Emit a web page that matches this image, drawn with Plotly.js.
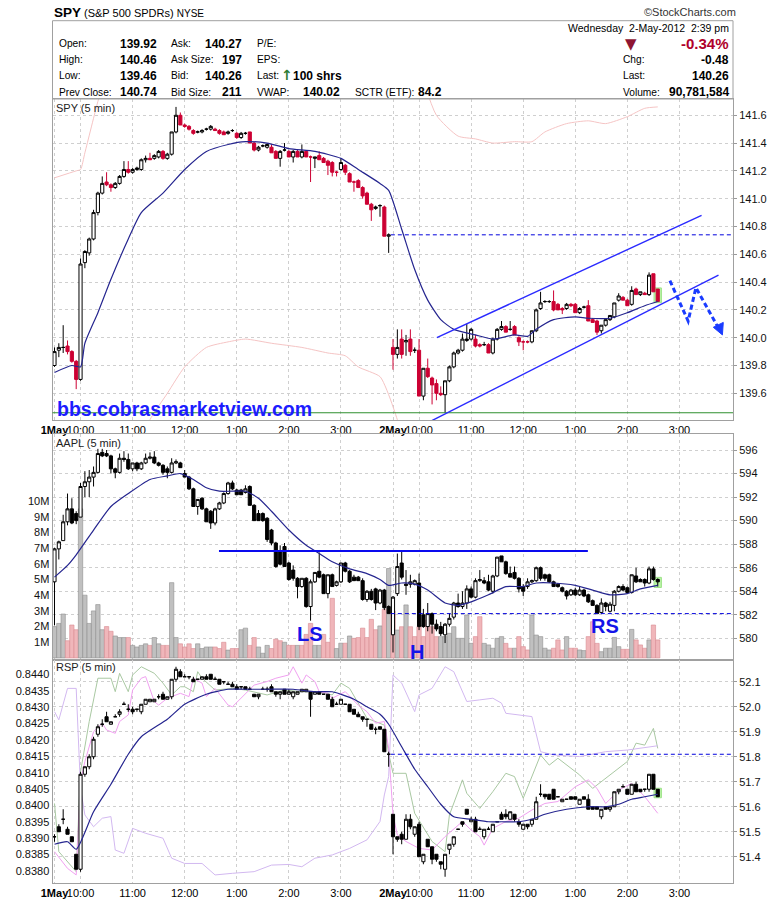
<!DOCTYPE html>
<html>
<head>
<meta charset="utf-8">
<script src="https://cdn.plot.ly/plotly-3.0.1.min.js"></script>
<style>html,body{margin:0;padding:0;background:#fff;}#chart{width:780px;height:901px;}</style>
</head>
<body>
<div id="chart"></div>
<script>
// ---------- time axis (5-minute bars: 1 May 9:30-16:00, 2 May 9:30-14:35) ----------
const TICK_POS  = [0, 6, 18, 30, 42, 54, 66, 78, 84, 96, 108, 120, 132, 144];
const TICK_TEXT = ['<b>1May</b>','10:00','11:00','12:00','1:00','2:00','3:00','<b>2May</b>','10:00','11:00','12:00','1:00','2:00','3:00'];
const DAY1_BARS = 78;

// ---------- SPY 5 min ----------
const SPY_OPEN = [
139.80,139.91,139.93,139.94,139.90,139.83,139.70,140.54,140.61,140.71,
140.90,141.04,141.12,141.10,141.08,141.11,141.16,141.21,141.19,141.21,
141.21,141.28,141.29,141.29,141.30,141.34,141.29,141.32,141.48,141.60,
141.53,141.52,141.49,141.48,141.48,141.50,141.50,141.50,141.49,141.48,
141.47,141.49,141.47,141.44,141.47,141.48,141.40,141.35,141.38,141.37,
141.37,141.34,141.29,141.35,141.34,141.30,141.34,141.30,141.34,141.30,
141.29,141.31,141.29,141.27,141.26,141.19,141.21,141.24,141.18,141.12,
141.13,141.08,141.04,140.96,140.93,140.95,140.94,140.73,
139.93,139.88,139.99,139.97,139.99,139.91,139.91,139.58,139.78,139.71,
139.67,139.60,139.59,139.69,139.79,139.89,139.91,139.98,139.99,139.99,
139.95,139.95,139.95,139.89,139.99,140.06,140.08,140.06,140.08,140.00,
139.97,139.97,139.97,140.05,140.21,140.26,140.26,140.26,140.24,140.21,
140.21,140.24,140.24,140.18,140.22,140.23,140.13,140.12,140.05,140.09,
140.13,140.15,140.27,140.29,140.27,140.24,140.35,140.31,140.32,140.31,
140.46,140.35];
const SPY_HIGH = [
139.93,139.96,140.09,139.98,139.91,139.84,140.57,140.63,140.72,140.92,
141.05,141.16,141.19,141.11,141.12,141.17,141.27,141.27,141.22,141.23,
141.29,141.31,141.33,141.32,141.35,141.35,141.33,141.48,141.66,141.62,
141.54,141.53,141.50,141.49,141.50,141.51,141.53,141.51,141.50,141.49,
141.49,141.50,141.48,141.48,141.48,141.48,141.41,141.38,141.39,141.40,
141.39,141.35,141.35,141.40,141.35,141.35,141.35,141.39,141.35,141.31,
141.30,141.34,141.30,141.28,141.27,141.20,141.29,141.25,141.19,141.13,
141.14,141.09,141.05,140.97,140.95,140.96,140.95,140.75,
139.99,140.06,140.06,140.02,140.06,139.93,139.99,139.78,139.85,139.72,
139.70,139.65,139.69,139.80,139.90,139.92,140.03,140.10,140.07,140.02,
139.96,139.97,139.96,140.00,140.07,140.12,140.09,140.12,140.09,140.01,
139.98,139.98,140.05,140.21,140.33,140.27,140.27,140.34,140.25,140.22,
140.25,140.25,140.25,140.22,140.23,140.27,140.14,140.13,140.09,140.13,
140.16,140.25,140.32,140.30,140.28,140.37,140.36,140.33,140.33,140.47,
140.46,140.35];
const SPY_LOW = [
139.79,139.86,139.89,139.88,139.82,139.63,139.69,140.50,140.59,140.70,
140.88,141.03,141.09,141.05,141.07,141.10,141.15,141.18,141.18,141.20,
141.20,141.26,141.28,141.28,141.29,141.28,141.28,141.31,141.47,141.53,
141.51,141.49,141.46,141.47,141.47,141.49,141.49,141.49,141.46,141.46,
141.46,141.48,141.43,141.43,141.46,141.40,141.34,141.34,141.37,141.36,
141.33,141.29,141.23,141.34,141.30,141.26,141.30,141.29,141.30,141.12,
141.22,141.28,141.26,141.17,141.16,141.16,141.20,141.17,141.12,141.05,
141.08,141.00,140.96,140.84,140.92,140.87,140.73,140.61,
139.77,139.85,139.85,139.87,139.87,139.89,139.58,139.55,139.71,139.52,
139.55,139.58,139.46,139.68,139.78,139.88,139.90,139.97,139.98,139.93,
139.93,139.94,139.89,139.88,139.98,140.05,140.04,140.05,140.02,139.94,
139.91,139.96,139.96,140.04,140.20,140.25,140.25,140.19,140.20,140.17,
140.20,140.22,140.18,140.17,140.21,140.12,140.11,140.02,140.03,140.08,
140.12,140.14,140.26,140.27,140.23,140.23,140.31,140.30,140.31,140.30,
140.33,140.26];
const SPY_CLOSE = [
139.90,139.93,139.93,139.90,139.83,139.70,140.53,140.62,140.71,140.90,
141.04,141.11,141.10,141.08,141.11,141.16,141.21,141.19,141.21,141.22,
141.28,141.29,141.28,141.31,141.34,141.29,141.32,141.48,141.60,141.53,
141.52,141.50,141.47,141.48,141.49,141.50,141.52,141.49,141.47,141.46,
141.48,141.49,141.44,141.47,141.47,141.40,141.35,141.37,141.38,141.39,
141.33,141.29,141.34,141.35,141.30,141.34,141.30,141.34,141.30,141.30,
141.30,141.28,141.26,141.24,141.19,141.19,141.26,141.19,141.12,141.12,
141.08,141.02,140.96,140.92,140.94,140.95,140.73,140.74,
139.88,139.93,139.88,139.98,139.90,139.91,139.58,139.78,139.72,139.66,
139.60,139.59,139.69,139.79,139.89,139.91,139.99,139.99,140.06,139.94,
139.94,139.95,139.89,139.99,140.06,140.08,140.04,140.06,140.02,139.97,
139.97,139.97,140.05,140.20,140.25,140.26,140.26,140.20,140.20,140.20,
140.24,140.23,140.18,140.21,140.22,140.12,140.11,140.04,140.09,140.13,
140.16,140.25,140.30,140.27,140.23,140.34,140.31,140.33,140.31,140.45,
140.33,140.26];
const SPY_MA_X = [0,4,6,7,10,13,17,20,25,30,35,40,44,49,54,60,66,70,75,77,80,83,86,89,92,97,101,106,109,111,115,120,123,128,132,136,139];
const SPY_MA   = [139.75,139.80,139.79,139.96,140.18,140.42,140.71,140.90,141.04,141.21,141.34,141.39,141.41,141.40,141.36,141.34,141.29,141.21,141.11,141.06,140.78,140.49,140.27,140.13,140.06,140.02,139.99,140.02,140.01,140.06,140.13,140.15,140.14,140.14,140.18,140.23,140.26];
const SPY_BBU_X = [0,5,6,7,10,11,null,85,88,93,97,101,106,110,113,118,123,127,132,136,139];
const SPY_BBU   = [141.15,141.20,141.21,141.33,141.70,141.80,null,141.85,141.60,141.45,141.43,141.40,141.41,141.41,141.48,141.54,141.56,141.54,141.59,141.65,141.66];
const SPY_BBL_X = [21,22,26,30,35,40,44,50,57,63,67,70,75,77,79,80];
const SPY_BBL   = [139.30,139.41,139.60,139.79,139.93,139.97,139.99,139.96,139.93,139.89,139.87,139.79,139.72,139.59,139.41,139.30];

// ---------- AAPL 5 min ----------
const AAPL_OPEN = [
584.8,587.6,588.3,589.9,591.0,590.6,590.3,592.9,593.3,593.7,
594.1,595.8,595.7,595.5,594.4,594.1,595.3,595.2,594.4,594.9,
594.4,594.9,595.3,595.4,594.9,594.7,594.4,594.1,594.9,594.9,
594.0,593.7,592.7,591.2,591.9,591.0,590.8,589.8,591.0,591.5,
592.3,593.2,592.6,592.6,592.4,592.9,591.3,590.6,590.6,590.2,
589.2,588.1,587.4,587.8,586.4,585.8,585.1,584.4,585.1,582.7,
584.8,585.7,585.4,583.8,585.4,584.5,584.8,586.4,585.7,585.2,
585.2,584.9,583.3,584.0,584.2,583.0,584.1,582.7,
580.3,583.8,586.4,584.6,584.6,584.6,584.7,582.0,581.0,582.1,
581.2,581.0,580.3,581.2,581.8,583.0,582.7,583.0,584.2,583.5,
584.9,584.9,584.8,584.0,585.3,587.0,586.5,585.5,585.6,585.1,
584.4,584.4,584.8,584.9,586.0,585.4,585.4,584.8,584.6,584.3,
584.0,583.7,584.1,583.7,584.1,583.7,583.2,582.8,582.2,583.0,
582.3,582.8,584.0,584.4,584.3,583.9,585.3,585.0,585.0,584.7,
585.9,585.0];
const AAPL_HIGH = [
587.7,588.3,590.5,592.3,591.9,590.8,593.2,594.2,594.3,594.6,
596.1,596.1,596.0,595.6,594.5,595.7,595.9,595.7,594.9,595.0,
595.0,595.7,595.8,595.9,595.0,594.8,594.6,595.3,595.2,595.0,
594.3,593.8,592.8,591.8,592.0,591.1,590.9,591.1,591.6,592.4,
593.3,593.4,592.7,592.7,593.0,593.0,591.4,590.9,590.7,590.3,
589.3,588.2,587.9,588.1,586.5,586.2,585.2,585.1,585.2,585.0,
585.6,587.3,585.5,585.4,585.5,584.9,586.4,586.5,585.8,585.4,
585.3,585.1,584.1,584.2,584.3,584.2,584.2,582.8,
583.6,587.2,587.4,585.8,585.4,585.0,585.5,582.5,583.0,582.2,
581.6,581.4,581.3,582.1,583.1,583.8,584.0,584.5,584.4,585.1,
585.8,585.2,585.4,585.4,586.9,587.0,586.6,586.1,586.1,585.2,
584.6,585.1,585.0,586.1,586.1,585.5,585.5,584.9,584.7,584.4,
584.1,584.2,584.3,584.4,584.2,583.8,583.3,582.9,583.4,583.1,
583.1,584.1,584.5,584.6,584.4,585.4,586.0,585.1,585.1,586.1,
586.1,585.1];
const AAPL_LOW = [
581.1,586.7,588.3,589.6,589.7,589.7,590.3,592.0,592.0,592.9,
594.0,595.4,595.4,594.0,593.6,594.0,595.0,594.3,594.2,594.2,
594.3,594.8,595.2,594.8,594.6,593.9,593.6,594.0,594.8,594.5,
593.7,592.6,591.2,590.5,590.9,589.9,589.3,589.6,590.9,591.4,
592.2,592.6,592.2,592.2,592.3,591.3,590.0,590.0,589.9,588.2,
587.9,586.0,586.2,586.1,584.9,584.9,583.4,584.3,582.6,581.5,
584.7,585.1,583.8,583.4,584.4,584.4,584.7,585.6,584.7,584.9,
584.9,583.2,583.1,583.2,582.4,582.9,582.4,582.1,
578.8,583.6,585.0,583.7,584.3,584.5,580.7,580.9,580.6,580.4,
580.6,580.2,579.6,581.0,581.6,582.6,582.5,582.5,583.4,583.4,
584.8,584.6,584.0,583.8,585.2,586.5,585.4,585.2,585.0,583.9,
583.6,584.2,584.7,584.8,584.9,584.9,584.7,584.4,584.3,583.9,
583.3,583.6,583.6,583.6,583.5,583.0,582.8,582.1,582.1,582.3,
582.2,582.3,583.9,584.0,583.8,583.8,584.7,584.8,584.4,584.6,
584.9,584.4];
const AAPL_CLOSE = [
587.6,588.2,589.9,591.0,589.8,590.0,592.9,593.3,593.7,594.1,
595.7,595.5,595.5,594.4,594.1,595.3,595.2,594.4,594.9,594.4,
594.9,595.3,595.4,594.9,594.7,594.1,594.1,594.9,595.0,594.5,
593.7,592.7,591.2,591.8,591.0,589.9,589.8,591.0,591.5,592.3,
593.2,592.7,592.2,592.2,592.7,591.3,590.0,590.0,590.0,588.4,
588.1,586.1,586.3,586.1,585.0,585.1,584.4,585.1,582.7,584.8,
585.6,585.2,583.8,585.4,584.4,584.8,586.4,585.7,584.8,584.9,
584.9,583.3,584.0,583.3,583.0,584.1,582.6,582.1,
583.5,586.1,585.2,584.5,584.8,584.9,581.0,581.0,582.1,581.2,
580.8,580.4,581.2,581.7,583.0,582.7,583.0,584.2,583.5,584.9,
585.0,584.7,584.1,585.3,586.9,586.5,585.5,585.2,585.1,584.2,
584.0,584.8,584.9,586.0,585.1,585.1,584.8,584.4,584.4,584.0,
583.6,584.1,583.7,584.1,583.6,583.1,582.8,582.1,583.0,582.7,
582.9,584.0,584.4,584.1,583.9,585.4,584.8,584.8,584.7,585.9,
585.0,584.8];
// volume in millions
const AAPL_VOL = [
2.0,2.2,2.8,1.1,2.1,1.8,9.5,4.0,2.2,3.0,
3.4,1.8,2.0,1.7,1.4,1.3,1.3,1.3,0.8,0.7,
0.8,0.9,0.8,1.3,0.9,0.8,0.8,4.8,1.3,0.9,
0.7,0.9,0.6,0.9,0.6,0.7,0.7,0.7,0.6,1.0,
0.5,0.6,0.6,1.8,1.9,0.8,1.3,0.7,0.3,0.8,
0.6,1.2,1.1,1.0,0.8,0.8,0.8,0.8,1.5,2.2,
0.8,0.8,1.5,1.0,3.8,0.6,0.94,0.94,1.4,1.25,
1.3,1.9,1.3,2.46,1.8,2.04,3.1,5.7,
3.0,1.78,1.99,3.38,1.99,1.36,1.99,1.36,2.42,1.99,
1.36,1.36,1.36,1.57,1.99,1.25,1.25,2.74,0.93,1.36,
2.63,0.93,0.83,0.62,1.25,1.36,0.93,0.62,0.62,1.36,
0.72,0.51,2.74,1.46,1.36,0.62,0.51,0.62,1.15,0.51,
1.36,0.62,0.62,0.51,0.47,1.36,2.31,0.93,0.40,0.62,
0.62,1.31,0.72,0.55,0.55,1.82,1.15,0.83,0.62,1.15,
2.10,1.15];
// volume bar direction: u = up (grey), d = down (red)
const AAPL_VOL_DIR = [
'uuuddduuuu','uudduuuduu','uuduudduud','ddduuuuddd','udduudduuu',
'dddudduddd','uuddduudud','dddddudu',
'dududddddd','duuuuuuuud','duuuuuddud','dduuuuuddd','udduuddduu',
'uuuddudddu','dd'].join('');
const AAPL_MA_X = [0,3,5,9,13,17,22,26,29,32,35,38,41,44,47,50,54,58,61,64,68,72,75,77,80,83,86,90,93,96,100,104,108,111,115,120,124,128,132,135,139];
const AAPL_MA   = [585.2,586.2,587.1,589.2,591.2,592.3,593.5,593.8,594.0,593.5,592.8,592.5,592.5,592.5,591.9,590.8,589.2,587.9,587.2,586.5,585.9,585.5,585.0,584.5,584.7,584.6,584.1,583.0,582.8,583.1,583.7,584.4,584.4,584.7,584.7,584.5,584.1,583.7,583.8,584.2,584.5];

// ---------- RSP 5 min ----------
const RSP_OPEN = [
51.48,51.52,51.55,51.51,51.48,51.41,51.35,51.73,51.76,51.80,
51.89,51.93,51.96,51.93,51.96,51.97,52.01,51.99,51.99,51.99,
51.98,52.01,52.02,52.02,52.04,52.05,52.03,52.04,52.11,52.14,
52.12,52.12,52.11,52.11,52.11,52.12,52.13,52.11,52.11,52.10,
52.09,52.09,52.08,52.08,52.08,52.07,52.05,52.04,52.07,52.07,
52.08,52.06,52.05,52.07,52.05,52.04,52.05,52.06,52.06,52.06,
52.05,52.06,52.05,52.05,52.03,52.01,52.01,52.01,52.01,51.99,
51.97,51.96,51.95,51.93,51.91,51.92,51.91,51.81,
51.57,51.48,51.49,51.47,51.55,51.49,51.53,51.38,51.47,51.44,
51.41,51.38,51.35,51.43,51.45,51.51,51.54,51.59,51.54,51.55,
51.51,51.48,51.51,51.50,51.54,51.57,51.57,51.55,51.57,51.54,
51.51,51.53,51.53,51.55,51.65,51.65,51.65,51.67,51.64,51.62,
51.63,51.64,51.64,51.61,51.64,51.63,51.60,51.60,51.56,51.60,
51.59,51.60,51.66,51.68,51.67,51.65,51.69,51.67,51.67,51.67,
51.73,51.67];
const RSP_HIGH = [
51.49,51.53,51.59,51.52,51.48,51.41,51.74,51.76,51.81,51.88,
51.93,51.95,51.98,51.94,51.97,51.99,52.02,52.01,52.00,51.99,
52.01,52.03,52.03,52.03,52.05,52.06,52.04,52.11,52.16,52.15,
52.13,52.12,52.12,52.11,52.12,52.13,52.13,52.12,52.11,52.10,
52.10,52.10,52.09,52.08,52.08,52.08,52.05,52.05,52.08,52.08,
52.09,52.06,52.06,52.07,52.07,52.06,52.06,52.07,52.07,52.06,
52.06,52.06,52.05,52.05,52.04,52.02,52.03,52.01,52.01,51.99,
51.98,51.96,51.95,51.93,51.92,51.92,51.91,51.82,
51.57,51.48,51.50,51.57,51.57,51.52,51.54,51.41,51.47,51.44,
51.41,51.38,51.41,51.45,51.48,51.51,51.54,51.59,51.56,51.56,
51.52,51.51,51.52,51.53,51.54,51.58,51.59,51.58,51.57,51.55,
51.53,51.53,51.55,51.64,51.69,51.65,51.65,51.67,51.64,51.63,
51.63,51.64,51.64,51.63,51.64,51.65,51.60,51.60,51.59,51.60,
51.60,51.66,51.67,51.69,51.67,51.69,51.70,51.67,51.67,51.73,
51.73,51.67];
const RSP_LOW = [
51.46,51.50,51.53,51.49,51.46,51.35,51.34,51.72,51.75,51.79,
51.88,51.92,51.94,51.93,51.96,51.96,52.01,51.98,51.97,51.98,
51.97,52.01,52.02,52.02,52.03,52.03,52.03,52.03,52.10,52.12,
52.12,52.11,52.10,52.11,52.11,52.11,52.11,52.11,52.09,52.09,
52.09,52.08,52.07,52.07,52.07,52.07,52.04,52.03,52.07,52.06,
52.06,52.04,52.03,52.05,52.05,52.03,52.05,52.06,52.06,51.96,
52.05,52.05,52.05,52.03,52.00,52.01,52.01,52.01,51.98,51.97,
51.96,51.94,51.92,51.91,51.89,51.91,51.82,51.76,
51.41,51.46,51.45,51.47,51.51,51.48,51.40,51.37,51.44,51.37,
51.38,51.35,51.32,51.41,51.44,51.51,51.52,51.57,51.54,51.50,
51.51,51.47,51.51,51.50,51.54,51.55,51.55,51.55,51.54,51.52,
51.51,51.51,51.52,51.55,51.64,51.63,51.63,51.63,51.64,51.62,
51.63,51.63,51.63,51.61,51.63,51.59,51.59,51.59,51.55,51.59,
51.58,51.60,51.65,51.68,51.65,51.65,51.66,51.66,51.66,51.66,
51.67,51.64];
const RSP_CLOSE = [
51.48,51.50,51.55,51.49,51.46,51.35,51.73,51.76,51.80,51.87,
51.92,51.93,51.94,51.94,51.96,51.98,52.01,51.99,51.98,51.99,
52.01,52.03,52.03,52.03,52.04,52.03,52.04,52.11,52.15,52.12,
52.12,52.12,52.10,52.11,52.12,52.11,52.11,52.11,52.09,52.10,
52.09,52.08,52.07,52.08,52.07,52.07,52.04,52.05,52.07,52.07,
52.06,52.05,52.06,52.05,52.06,52.06,52.06,52.07,52.07,52.03,
52.06,52.05,52.05,52.03,52.00,52.01,52.03,52.01,51.98,51.97,
51.96,51.95,51.95,51.91,51.91,51.91,51.82,51.81,
51.48,51.47,51.47,51.55,51.52,51.52,51.40,51.41,51.44,51.39,
51.39,51.37,51.41,51.45,51.48,51.51,51.53,51.57,51.55,51.50,
51.51,51.51,51.51,51.53,51.54,51.55,51.56,51.58,51.55,51.53,
51.53,51.52,51.55,51.62,51.65,51.64,51.63,51.63,51.64,51.63,
51.63,51.63,51.63,51.63,51.63,51.59,51.59,51.59,51.59,51.59,
51.60,51.66,51.67,51.68,51.65,51.69,51.66,51.66,51.67,51.73,
51.67,51.64];
const RSP_MA_X = [0,3,5,9,13,17,20,26,30,35,40,44,49,55,60,64,69,72,75,77,80,83,86,89,92,96,100,103,107,110,113,118,123,127,130,133,136,139];
const RSP_MA   = [51.45,51.46,51.43,51.58,51.69,51.81,51.88,51.95,52.01,52.05,52.07,52.07,52.07,52.07,52.06,52.06,52.03,52.00,51.97,51.93,51.84,51.75,51.68,51.61,51.56,51.55,51.54,51.54,51.54,51.55,51.57,51.59,51.60,51.60,51.61,51.63,51.64,51.65];
// overlay lines read against the left scale of the RSP panel
const GREEN_X = [0,1,5,6,8,10,13,14,15,17,18,20,23,25,27,29,30,32,33,34,37,41,44,49,53,57,61,64,66,68,72,75,76,77,78,81,83,87,90,91,94,95,98,101,104,106,108,112,114,116,121,124,129,132,134,136,138,139];
const GREEN_Y = [0.84006,0.83859,0.83798,0.84103,0.84256,0.84388,0.84388,0.84347,0.84403,0.84347,
0.84398,0.84423,0.84403,0.84373,0.84337,0.84362,0.84362,0.84347,0.84408,0.84388,
0.84352,0.84357,0.84352,0.84337,0.84352,0.84347,0.84347,0.84337,0.84373,0.84357,
0.84266,0.84251,0.84245,0.84159,0.84098,0.84098,0.83976,0.83890,0.83859,0.83971,
0.84078,0.84037,0.83991,0.84042,0.84098,0.84088,0.84022,0.84154,0.84123,0.84144,
0.84093,0.84052,0.84103,0.84134,0.84190,0.84184,0.84235,0.84174];
const MAGENTA_X = [0,3,5,6,7,9,11,12,14,15,17,18,20,21,23,24,26,27,29,31,32,34,35,37,40,41,43,46,49,51,54,55,57,58,60,61,63,64,67,70,72,74,76,77,78,79,81,84,87,90,94,96,98,99,101,104,107,110,113,116,120,123,125,127,129,130,133,136,139];
const MAGENTA_Y = [0.83859,0.83808,0.83788,0.84073,0.84134,0.84225,0.84251,0.84230,0.84220,0.84256,
0.84276,0.84352,0.84388,0.84393,0.84317,0.84306,0.84327,0.84332,0.84342,0.84332,
0.84388,0.84373,0.84332,0.84357,0.84306,0.84301,0.84327,0.84367,0.84378,0.84388,
0.84398,0.84423,0.84373,0.84398,0.84378,0.84347,0.84342,0.84327,0.84347,0.84306,
0.84286,0.84251,0.84256,0.84174,0.83971,0.83910,0.83890,0.83869,0.83864,0.83905,
0.83951,0.83925,0.83905,0.83879,0.83930,0.83951,0.83961,0.83986,0.84006,0.84012,
0.84057,0.84078,0.84052,0.84006,0.84032,0.84047,0.84067,0.84027,0.83976];
const LAV_X = [0,1,3,5,6,7,9,11,13,14,16,18,21,25,27,30,34,37,41,46,50,54,57,60,64,68,72,75,76,77,78,80,83,84,87,90,92,95,98,101,103,104,110,112,115,121,127,132,139];
const LAV_Y = [0.84286,0.84261,0.84357,0.84357,0.84052,0.83971,0.83935,0.83961,0.83966,0.83864,
0.83854,0.83930,0.83915,0.83900,0.83839,0.83823,0.83823,0.83788,0.83793,0.83798,
0.83818,0.83820,0.83813,0.83839,0.83849,0.83869,0.83895,0.83951,0.84032,0.84088,
0.84398,0.84373,0.84286,0.84337,0.84357,0.84423,0.84408,0.84317,0.84322,0.84327,
0.84312,0.84281,0.84271,0.84164,0.84154,0.84149,0.84164,0.84169,0.84182];

// ---------- hand-drawn annotations (bar index, price) ----------
const CHANNEL_UPPER = [[88.1,140.00],[149.1,140.88]];
const CHANNEL_LOWER = [[86.1,139.39],[153.0,140.45]];
const ZIGZAG = [[141.8,140.41],[146.0,140.12],[147.8,140.36],[152.8,140.08]];
const ARROW_HEAD = [[151.8,140.075],[154.1,140.11],[153.9,140.02]];
const NECKLINE = {from: 37.9, to: 122.9, price: 587.42};

// ---------------- drawing ----------------
const FONT = 'Liberation Sans, Arial, Helvetica, sans-serif';
const GRID = '#cfcfcf';
const BORDER = '#a0a0a0';
const W = 780, H = 901;
const X_DOMAIN = [52.5 / W, 733 / W];
const X_RANGE = [-0.46, 156.34];
const px = v => v / W, py = v => 1 - v / H;
const idx = SPY_OPEN.map((_, k) => k);
const last = idx.length - 1;

function xAxis(anchor, labels) {
  return {domain: X_DOMAIN, range: X_RANGE, anchor, tickvals: TICK_POS, ticktext: TICK_TEXT,
    showticklabels: labels, tickangle: 0, ticks: '', tickfont: {family: FONT, size: 11, color: '#000'},
    showgrid: true, gridcolor: GRID, griddash: '3px,3px', gridwidth: 1, zeroline: false,
    showline: true, linecolor: BORDER, linewidth: 1, mirror: true,
    rangeslider: {visible: false}, fixedrange: true};
}
function yAxis(extra) {
  return Object.assign({ticks: 'outside', ticklen: 3, tickcolor: '#9a9a9a',
    tickfont: {family: FONT, size: 11, color: '#111'}, zeroline: false, fixedrange: true,
    showgrid: true, gridcolor: GRID, griddash: '3px,3px', gridwidth: 1}, extra);
}
const range = (a, b, s) => { const r = []; for (let v = a; v <= b + s / 2; v += s) r.push(+v.toFixed(4)); return r; };

function candle(o, h, l, c, xa, ya, downFill, downLine) {
  return {type: 'candlestick', x: idx, open: o, high: h, low: l, close: c, xaxis: xa, yaxis: ya,
    increasing: {line: {color: '#000', width: 1}, fillcolor: '#ffffff'},
    decreasing: {line: {color: downLine, width: 1}, fillcolor: downFill},
    whiskerwidth: 0, hoverinfo: 'skip', showlegend: false};
}
function line(x, y, xa, ya, color, width, shape) {
  return {type: 'scatter', mode: 'lines', x, y, xaxis: xa, yaxis: ya, connectgaps: false,
    line: {color, width, shape: shape || 'linear', smoothing: 0.6}, hoverinfo: 'skip', showlegend: false};
}

const volColors = AAPL_VOL.map((_, k) => AAPL_VOL_DIR[k] === 'd' ? '#f0b6ba' : '#c0c0c0');
const volLines  = AAPL_VOL.map((_, k) => AAPL_VOL_DIR[k] === 'd' ? '#d98c92' : '#8e8e8e');

const data = [
  // SPY panel
  line(SPY_BBU_X, SPY_BBU, 'x', 'y', '#f5c4c4', 1, 'spline'),
  line(SPY_BBL_X, SPY_BBL, 'x', 'y', '#f5c4c4', 1, 'spline'),
  candle(SPY_OPEN, SPY_HIGH, SPY_LOW, SPY_CLOSE, 'x', 'y', '#cc0033', '#cc0033'),
  line(SPY_MA_X, SPY_MA, 'x', 'y', '#25258f', 1.2, 'spline'),
  // AAPL panel
  {type: 'bar', x: idx, y: AAPL_VOL, xaxis: 'x2', yaxis: 'y2', width: 1,
   marker: {color: volColors, line: {color: volLines, width: 0.6}}, hoverinfo: 'skip', showlegend: false},
  candle(AAPL_OPEN, AAPL_HIGH, AAPL_LOW, AAPL_CLOSE, 'x2', 'y4', '#000000', '#000000'),
  line(AAPL_MA_X, AAPL_MA, 'x2', 'y4', '#25258f', 1.2, 'spline'),
  // RSP panel
  line(GREEN_X, GREEN_Y, 'x3', 'y3', '#a9c8a2', 1),
  line(MAGENTA_X, MAGENTA_Y, 'x3', 'y3', '#f0a0f0', 1),
  line(LAV_X, LAV_Y, 'x3', 'y3', '#d2b8f0', 1),
  candle(RSP_OPEN, RSP_HIGH, RSP_LOW, RSP_CLOSE, 'x3', 'y5', '#000000', '#000000'),
  line(RSP_MA_X, RSP_MA, 'x3', 'y5', '#25258f', 1.2, 'spline')
];

const shapes = [
  // info box
  {type: 'rect', xref: 'paper', yref: 'paper', x0: X_DOMAIN[0], x1: X_DOMAIN[1], y0: py(99), y1: py(20.7),
   line: {color: BORDER, width: 1}},
  // day low line
  {type: 'line', xref: 'paper', yref: 'y', x0: X_DOMAIN[0], x1: X_DOMAIN[1],
   y0: Math.min(...SPY_LOW), y1: Math.min(...SPY_LOW), line: {color: '#2f8f2f', width: 1.2}},
  // previous-close dashed lines
  {type: 'line', xref: 'x', yref: 'y', x0: DAY1_BARS - 0.5, x1: X_RANGE[1], y0: SPY_CLOSE[DAY1_BARS - 1], y1: SPY_CLOSE[DAY1_BARS - 1],
   line: {color: '#0000dd', width: 1, dash: '4px,3px'}},
  {type: 'line', xref: 'x2', yref: 'y4', x0: DAY1_BARS - 0.5, x1: X_RANGE[1], y0: AAPL_CLOSE[DAY1_BARS - 1], y1: AAPL_CLOSE[DAY1_BARS - 1],
   line: {color: '#0000dd', width: 1, dash: '4px,3px'}},
  {type: 'line', xref: 'x3', yref: 'y5', x0: DAY1_BARS - 0.5, x1: X_RANGE[1], y0: RSP_CLOSE[DAY1_BARS - 1], y1: RSP_CLOSE[DAY1_BARS - 1],
   line: {color: '#0000dd', width: 1, dash: '4px,3px'}},
  // channel
  {type: 'line', xref: 'x', yref: 'y', x0: CHANNEL_UPPER[0][0], y0: CHANNEL_UPPER[0][1], x1: CHANNEL_UPPER[1][0], y1: CHANNEL_UPPER[1][1],
   line: {color: '#2a2aff', width: 1.4}},
  {type: 'line', xref: 'x', yref: 'y', x0: CHANNEL_LOWER[0][0], y0: CHANNEL_LOWER[0][1], x1: CHANNEL_LOWER[1][0], y1: CHANNEL_LOWER[1][1],
   line: {color: '#2a2aff', width: 1.4}},
  // zigzag projection
  {type: 'path', xref: 'x', yref: 'y', path: 'M' + ZIGZAG.map(p => p[0] + ',' + p[1]).join(' L'),
   line: {color: '#1a3cff', width: 3, dash: '5px,3px'}},
  {type: 'path', xref: 'x', yref: 'y', path: 'M' + ARROW_HEAD.map(p => p[0] + ',' + p[1]).join(' L') + ' Z',
   fillcolor: '#1a3cff', line: {color: '#1a3cff', width: 1}},
  // AAPL neckline
  {type: 'line', xref: 'x2', yref: 'y4', x0: NECKLINE.from, x1: NECKLINE.to, y0: NECKLINE.price, y1: NECKLINE.price,
   line: {color: '#0a0aee', width: 2.2}}
];
// highlight of the latest bar in each panel
[[SPY_HIGH, SPY_LOW, 'x', 'y', 0.008], [AAPL_HIGH, AAPL_LOW, 'x2', 'y4', 0.08], [RSP_HIGH, RSP_LOW, 'x3', 'y5', 0.004]].forEach(s => {
  shapes.push({type: 'rect', xref: s[2], yref: s[3], x0: last - 0.85, x1: last + 0.85, y0: s[1][last] - s[4], y1: s[0][last] + s[4],
    fillcolor: '#b9f3a6', line: {color: '#9ee38a', width: 1}, layer: 'below'});
});

function txt(text, x, y, size, opt) {
  opt = opt || {};
  return {text, x: px(x), y: py(y), xref: 'paper', yref: 'paper', showarrow: false,
    xanchor: opt.anchor || 'left', yanchor: 'middle', borderpad: 0,
    font: {family: opt.family || FONT, size, color: opt.color || '#000'}};
}
const NB = '\u00a0';
const LBL = 10.2;
const annotations = [
  txt('<b>SPY</b>', 52.5, 12, 13.5),
  txt('(S&amp;P 500 SPDRs) <span style="font-size:10px">NYSE</span>', 83, 12.5, 11),
  txt('©StockCharts.com', 737, 12, 11, {anchor: 'right', color: '#333'}),
  txt('Wednesday' + NB + NB + '2-May-2012' + NB + NB + '2:39 pm', 730, 28.3, 10.5, {anchor: 'right'}),
  txt('Open:', 58, 43.5, LBL), txt('<b>139.92</b>', 157.5, 43.5, 12, {anchor: 'right'}),
  txt('High:', 58, 60, LBL), txt('<b>140.46</b>', 157.5, 60, 12, {anchor: 'right'}),
  txt('Low:', 58, 76, LBL), txt('<b>139.46</b>', 157.5, 76, 12, {anchor: 'right'}),
  txt('Prev Close:', 58, 92.3, LBL), txt('<b>140.74</b>', 157.5, 92.3, 12, {anchor: 'right'}),
  txt('Ask:', 170, 43.5, LBL), txt('<b>140.27</b>', 242.5, 43.5, 12, {anchor: 'right'}),
  txt('Ask Size:', 170, 60, LBL), txt('<b>197</b>', 242.5, 60, 12, {anchor: 'right'}),
  txt('Bid:', 170, 76, LBL), txt('<b>140.26</b>', 242.5, 76, 12, {anchor: 'right'}),
  txt('Bid Size:', 170, 92.3, LBL), txt('<b>211</b>', 242.5, 92.3, 12, {anchor: 'right'}),
  txt('P/E:', 256, 43.5, LBL),
  txt('EPS:', 256, 60, LBL),
  txt('Last:', 256, 76, LBL),
  txt('<b>↑</b>', 280, 75.5, 14, {family: 'DejaVu Sans', color: '#2e7d32'}),
  txt('<b>100 shrs</b>', 292, 76, 12),
  txt('VWAP:', 256, 92.3, LBL), txt('<b>140.02</b>', 341, 92.3, 12, {anchor: 'right'}),
  txt('SCTR (ETF):', 354, 92.3, LBL), txt('<b>84.2</b>', 443, 92.3, 12, {anchor: 'right'}),
  txt('▼', 630.5, 43.5, 15, {anchor: 'center', family: 'DejaVu Sans', color: '#8e1533'}),
  txt('<b>-0.34%</b>', 730, 43.5, 15, {anchor: 'right', color: '#b0002b'}),
  txt('Chg:', 622, 60, LBL), txt('<b>-0.48</b>', 730, 60, 12, {anchor: 'right'}),
  txt('Last:', 622, 76, LBL), txt('<b>140.26</b>', 730, 76, 12, {anchor: 'right'}),
  txt('Volume:', 622, 92.3, LBL), txt('<b>90,781,584</b>', 730, 92.3, 12, {anchor: 'right'}),
  // panel titles
  txt('SPY (5 min)', 55, 107.5, 11, {color: '#222'}),
  txt('AAPL (5 min)', 55, 442.5, 11, {color: '#222'}),
  txt('RSP (5 min)', 55, 666.5, 11, {color: '#222'}),
  // watermark and pattern labels
  txt('<b>bbs.cobrasmarketview.com</b>', 56, 409.5, 19.5, {color: '#1c1cff'}),
  txt('<b>LS</b>', 310, 634, 20, {anchor: 'center', color: '#1414e8'}),
  txt('<b>H</b>', 417, 651.5, 20, {anchor: 'center', color: '#1414e8'}),
  txt('<b>RS</b>', 605, 626, 20, {anchor: 'center', color: '#1414e8'})
];

const layout = {
  width: W, height: H, margin: {l: 0, r: 0, t: 0, b: 0}, paper_bgcolor: '#fff', plot_bgcolor: '#fff',
  showlegend: false, hovermode: false, dragmode: false, bargap: 0, boxgap: 0.28, boxgroupgap: 0,
  font: {family: FONT, size: 11, color: '#000'},
  xaxis: xAxis('y', true),
  xaxis2: xAxis('y2', false),
  xaxis3: xAxis('y3', true),
  yaxis: yAxis({domain: [py(420), py(99)], range: [139.408, 141.717], side: 'right',
    tickvals: range(139.6, 141.6, 0.2), tickformat: '.1f', showline: true, linecolor: BORDER, mirror: true}),
  yaxis2: yAxis({domain: [py(660), py(434)], range: [-0.13, 14.27], side: 'left', showgrid: false, ticks: '',
    tickvals: range(1, 10, 1), ticktext: range(1, 10, 1).map(v => v + 'M'), showline: true, linecolor: BORDER, mirror: true}),
  yaxis4: yAxis({overlaying: 'y2', range: [578.16, 597.36], side: 'right', tickvals: range(580, 596, 2), showline: false}),
  yaxis3: yAxis({domain: [py(883), py(660)], range: [0.837634, 0.844436], side: 'left', showgrid: false, ticks: '',
    tickvals: range(0.8380, 0.8440, 0.0005), tickformat: '.4f', showline: true, linecolor: BORDER, mirror: true}),
  yaxis5: yAxis({overlaying: 'y3', range: [51.295, 52.187], side: 'right', tickvals: range(51.4, 52.1, 0.1),
    tickformat: '.1f', showline: false}),
  shapes, annotations
};

Plotly.newPlot('chart', data, layout, {displayModeBar: false, staticPlot: true});
</script>
</body>
</html>
